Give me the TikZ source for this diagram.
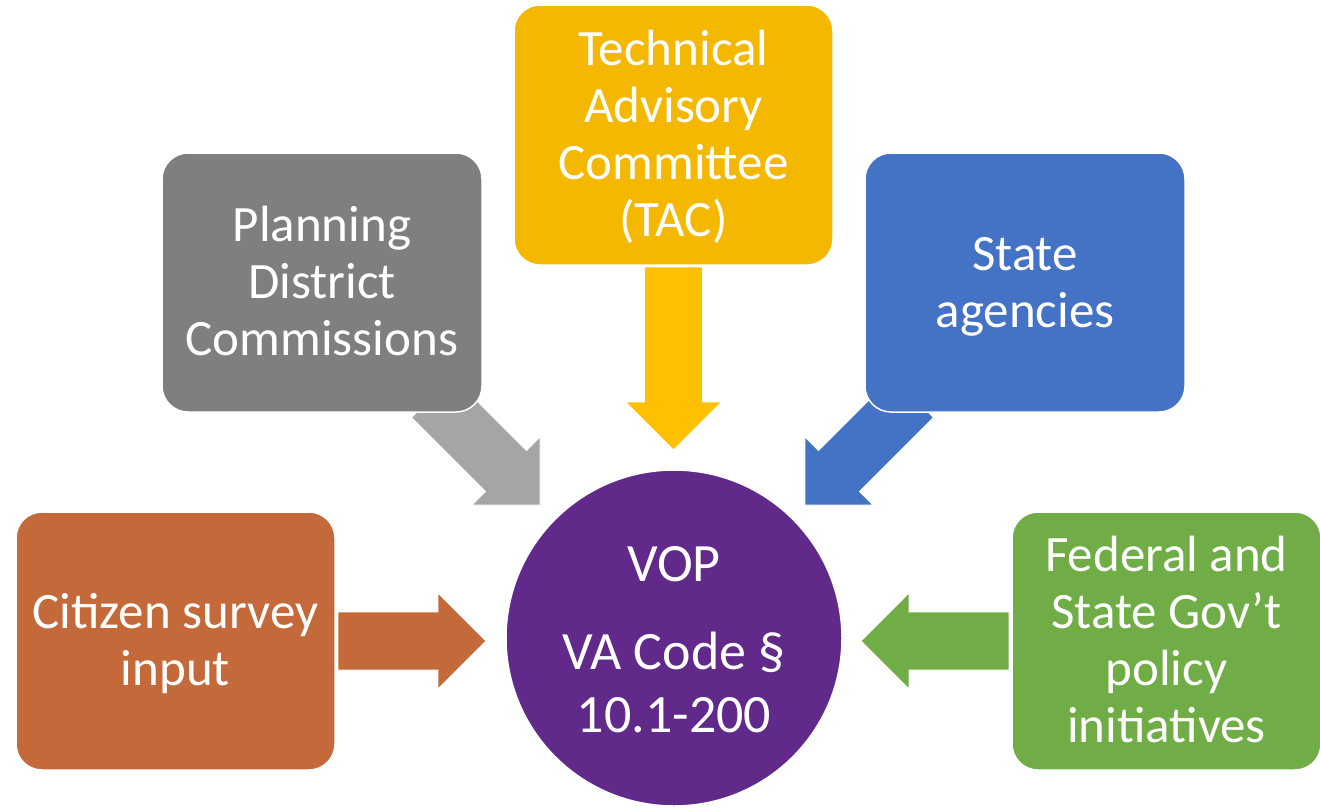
\documentclass[tikz,border=0pt]{standalone}
\usepackage{fontspec}
\setmainfont{Carlito}
\usetikzlibrary{calc}
\definecolor{cgraybox}{HTML}{7F7F7F}
\definecolor{cgrayarr}{HTML}{A5A5A5}
\definecolor{cyelbox}{HTML}{F4B800}
\definecolor{cyelarr}{HTML}{FFC000}
\definecolor{cblue}{HTML}{4472C4}
\definecolor{corange}{HTML}{C46A3A}
\definecolor{cgreen}{HTML}{70AD47}
\definecolor{cpurple}{HTML}{612A8A}
\newcommand\bs{\rule[-12pt]{0pt}{56.5pt}}
\newcommand\blockarrow[3]{%
  \coordinate (ba-h) at ($(#3)!48pt!(#2)$);
  \path[#1] ($(#2)!29pt!90:(#3)$) -- ($(ba-h)!29pt!90:(#3)$) -- ($(ba-h)!48pt!90:(#3)$) -- (#3)
    -- ($(ba-h)!48pt!-90:(#3)$) -- ($(ba-h)!29pt!-90:(#3)$) -- ($(#2)!29pt!-90:(#3)$) -- cycle;}
\begin{document}
\begin{tikzpicture}[x=1pt,y=-1pt,
  box/.style={draw=white,line width=1.5pt,rounded corners=26pt,text=white,align=center,
    inner sep=0pt,font=\fontsize{51}{57}\selectfont},
  arr/.style={draw=white,line width=0.8pt},
  vtext/.style={text=white,anchor=base,inner sep=0pt,font=\fontsize{54}{60}\selectfont}]
\useasboundingbox (0,0) rectangle (1320,809);
% arrow end points
\coordinate (tacS) at (673.5,267);
\coordinate (tacT) at (673.5,450);
\coordinate (pdcS) at (432,397);
\coordinate (pdcT) at (540,505);
\coordinate (staS) at (913,397);
\coordinate (staT) at (805,505);
\coordinate (citS) at (338,641);
\coordinate (citT) at (486,641);
\coordinate (fedS) at (1009,641);
\coordinate (fedT) at (861,641);
% arrows
\blockarrow{fill=cyelarr,arr}{tacS}{tacT}
\blockarrow{fill=cgrayarr,arr}{pdcS}{pdcT}
\blockarrow{fill=cblue,arr}{staS}{staT}
\blockarrow{fill=corange,arr}{citS}{citT}
\blockarrow{fill=cgreen,arr}{fedS}{fedT}
% boxes
\node[box,fill=cgraybox,minimum width=320pt,minimum height=259pt] (pdc) at (322,282.5)
  {\bs Planning\\\bs District\\\bs Commissions};
\node[box,fill=cyelbox,minimum width=319pt,minimum height=260pt] (tac) at (673.5,135)
  {\bs Technical\\\bs Advisory\\\bs Committee\\\bs (TAC)};
\node[box,fill=cblue,minimum width=320pt,minimum height=259pt] (sta) at (1025,282.5)
  {\bs State\\\bs agencies};
\node[box,fill=corange,minimum width=319pt,minimum height=258pt] (cit) at (175.5,641)
  {\bs Citizen survey\\\bs input};
\node[box,fill=cgreen,minimum width=309pt,minimum height=258pt] (fed) at (1166.5,641)
  {\bs Federal and\\\bs State Gov’t\\\bs policy\\\bs initiatives};
% centre circle
\node[circle,fill=cpurple,draw=white,line width=1.5pt,minimum size=336pt,inner sep=0pt] (vop) at (674,638) {};
\node[vtext] (vop1) at (674,581) {VOP};
\node[vtext] (vop2) at (674,669) {VA Code §};
\node[vtext] (vop3) at (674,732) {10.1-200};
\end{tikzpicture}
\end{document}
